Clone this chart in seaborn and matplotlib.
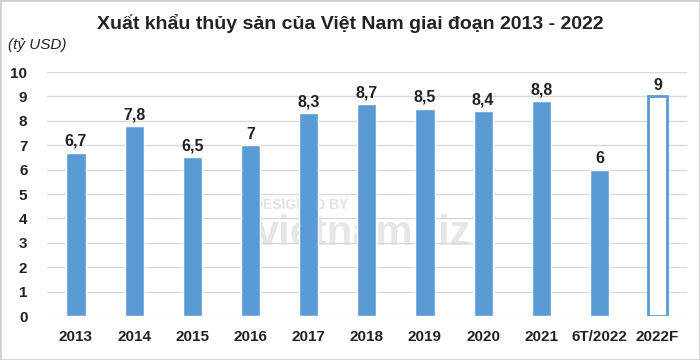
import matplotlib
matplotlib.use('Agg')
import matplotlib.pyplot as plt
import seaborn as sns
import pandas as pd

# data
years = ['2013', '2014', '2015', '2016', '2017', '2018', '2019', '2020', '2021', '6T/2022', '2022F']
values = [6.7, 7.8, 6.5, 7, 8.3, 8.7, 8.5, 8.4, 8.8, 6, 9]
labels = ['6,7', '7,8', '6,5', '7', '8,3', '8,7', '8,5', '8,4', '8,8', '6', '9']

df = pd.DataFrame({'nam': years, 'gia_tri': values})

sns.set_theme(style='white')
plt.rcParams['font.family'] = ['Liberation Sans Narrow', 'Liberation Sans', 'DejaVu Sans']

fig = plt.figure(figsize=(7, 3.6), dpi=100)
ax = fig.add_axes([0.067, 0.122, 0.914, 0.678])
ax.set_facecolor('none')

blue = '#5b9bd5'
sns.barplot(data=df, x='nam', y='gia_tri', color=blue, saturation=1, width=0.33, ax=ax, zorder=3)

# 2022F la du bao -> cot rong
last = ax.patches[-1]
last.set_facecolor('white')
last.set_edgecolor(blue)
last.set_linewidth(2)

for p, lab in zip(ax.patches, labels):
    ax.text(p.get_x() + p.get_width() / 2, p.get_height() + 0.15, lab,
            ha='center', va='bottom', fontsize=11.5, fontweight='bold', color='#222222')

ax.set_ylim(0, 10)
ax.set_yticks(range(0, 11))
ax.yaxis.grid(True, color='#d9d9d9', linewidth=1, zorder=0)
ax.set_axisbelow(True)
for s in ax.spines.values():
    s.set_visible(False)
ax.tick_params(axis='both', length=0, labelsize=11)
for t in ax.get_xticklabels() + ax.get_yticklabels():
    t.set_fontweight('bold')
    t.set_color('#222222')
ax.tick_params(axis='x', pad=10)
ax.tick_params(axis='y', pad=14)
ax.set_xlabel('')
ax.set_ylabel('')
ax.set_xlim(-0.5, len(years) - 0.5)

fig.text(0.5, 0.935, 'Xuất khẩu thủy sản của Việt Nam giai đoạn 2013 - 2022',
         ha='center', va='center', fontsize=14, fontweight='bold', color='#222222')
fig.text(0.012, 0.875, '(tỷ USD)', ha='left', va='center', fontsize=11,
         style='italic', color='#222222')

# watermark (sau cac cot)
fig.text(0.43, 0.43, 'DESIGNED BY', ha='center', va='center', fontsize=10,
         fontweight='bold', color='#e2e2e2', zorder=-1)
fig.text(0.52, 0.35, 'vietnambiz', ha='center', va='center', fontsize=30,
         fontweight='bold', color='#e6e6e6', zorder=-1)

fig.patches.append(plt.Rectangle((0, 0), 1, 1, transform=fig.transFigure,
                                 fill=False, edgecolor='#d0d0d0', linewidth=2))

fig.savefig('out.png', dpi=100)
